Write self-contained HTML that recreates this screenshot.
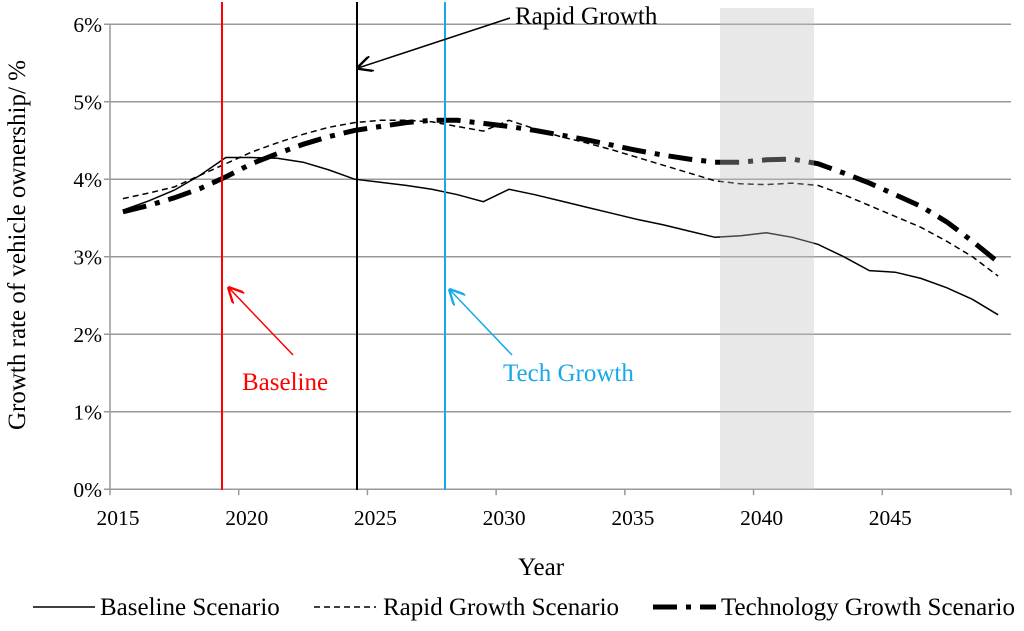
<!DOCTYPE html>
<html><head><meta charset="utf-8"><style>
body{margin:0;background:#fff}
svg text{font-family:"Liberation Serif",serif;}
</style></head><body>
<svg id="chart" width="1024" height="626" viewBox="0 0 1024 626" xmlns="http://www.w3.org/2000/svg">
<defs><marker id="ah" viewBox="0 0 10 10" refX="9" refY="5" markerWidth="16" markerHeight="16" markerUnits="userSpaceOnUse" orient="auto"><path d="M0,0 L10,5 L0,10" fill="none" stroke="context-stroke" stroke-width="1.5"/></marker></defs>
<g id="grid"></g>
<g id="series"></g>
<rect x="720" y="8" width="94" height="482" fill="rgb(190,190,190)" fill-opacity="0.36"/>
<g id="axes"></g>
<line x1="222" y1="2" x2="222" y2="490" stroke="#ff0000" stroke-width="2"/>
<line x1="357" y1="2" x2="357" y2="490" stroke="#000" stroke-width="2"/>
<line x1="445" y1="2" x2="445" y2="490" stroke="#17a9e8" stroke-width="2"/>
<line x1="510" y1="18" x2="358" y2="68" stroke="#000" stroke-width="1.5" marker-end="url(#ah)"/>
<text x="515" y="24" font-size="25" fill="#000">Rapid Growth</text>
<line x1="293" y1="355" x2="229" y2="288" stroke="#ff0000" stroke-width="1.5" marker-end="url(#ah)"/>
<text x="242" y="390" font-size="25" fill="#ff0000">Baseline</text>
<line x1="512" y1="355" x2="450" y2="290" stroke="#17a9e8" stroke-width="1.5" marker-end="url(#ah)"/>
<text x="503" y="381" font-size="25" fill="#17a9e8">Tech Growth</text>
<text x="541" y="575" font-size="25" text-anchor="middle">Year</text>
<text transform="translate(25,245) rotate(-90)" font-size="25" text-anchor="middle">Growth rate of vehicle ownership/ %</text>
<g>
<line x1="33" y1="607" x2="95" y2="607" stroke="#000" stroke-width="1.5"/>
<text x="100" y="615" font-size="25">Baseline Scenario</text>
<line x1="314" y1="607" x2="376" y2="607" stroke="#000" stroke-width="1.5" stroke-dasharray="6,4"/>
<text x="383" y="615" font-size="25">Rapid Growth Scenario</text>
<line x1="653" y1="607" x2="716" y2="607" stroke="#000" stroke-width="5" stroke-dasharray="24,9,5,9"/>
<text x="721" y="615" font-size="25">Technology Growth Scenario</text>
</g>
</svg>
<script>
const years=[2015,2016,2017,2018,2019,2020,2021,2022,2023,2024,2025,2026,2027,2028,2029,2030,2031,2032,2033,2034,2035,2036,2037,2038,2039,2040,2041,2042,2043,2044,2045,2046,2047,2048,2049];
const baseline=[3.6,3.72,3.86,4.05,4.28,4.28,4.27,4.22,4.12,4.0,3.96,3.92,3.87,3.8,3.71,3.87,3.8,3.72,3.64,3.56,3.48,3.41,3.33,3.25,3.27,3.31,3.25,3.16,3.0,2.82,2.8,2.72,2.6,2.45,2.25];
const rapid=[3.75,3.82,3.9,4.05,4.2,4.35,4.47,4.58,4.67,4.73,4.76,4.76,4.74,4.68,4.62,4.76,4.65,4.55,4.47,4.38,4.28,4.18,4.08,3.98,3.94,3.93,3.95,3.92,3.8,3.66,3.52,3.38,3.2,3.0,2.75];
const tech=[3.58,3.66,3.76,3.88,4.03,4.2,4.33,4.45,4.55,4.63,4.68,4.73,4.76,4.76,4.72,4.68,4.63,4.57,4.51,4.44,4.37,4.31,4.26,4.22,4.22,4.25,4.26,4.2,4.08,3.95,3.8,3.65,3.45,3.2,2.93];
const yTicks=[0,1,2,3,4,5,6];
const xTickLabels=[2015,2020,2025,2030,2035,2040,2045];
const NS="http://www.w3.org/2000/svg";
const L=110,R=1011,Y0=489.2,PX=77.5,STEP=(R-L)/35;
const xs=i=>L+STEP*(i+0.5), xt=y=>L+STEP*(y-2015), ys=v=>Y0-v*PX;
function mk(tag,attrs,parent){const e=document.createElementNS(NS,tag);for(const k in attrs)e.setAttribute(k,attrs[k]);document.getElementById(parent).appendChild(e);return e;}
yTicks.forEach(t=>{
 const g=mk('line',{x1:L-6,x2:R,y1:ys(t),y2:ys(t),stroke:'#999','stroke-width':1.5},'grid');
 
 
 const tx=mk('text',{x:L-8,y:ys(t)+8,'font-size':21.5,'text-anchor':'end'},'axes');
 tx.textContent=t+'%';
 
 
});
const ax=mk('line',{x1:L,x2:L,y1:ys(6),y2:Y0,stroke:'#999','stroke-width':1.5},'axes');


for(let y=2015;y<=2050;y+=5){
 const t=mk('line',{x1:xt(y),x2:xt(y),y1:Y0,y2:Y0+6,stroke:'#999','stroke-width':1.5},'axes');
 
 
}
xTickLabels.forEach(y=>{
 const tx=mk('text',{x:xt(y)+8,y:Y0+36,'font-size':21.5,'text-anchor':'middle'},'axes');
 tx.textContent=y;
 
 
});
function line(data,name,attrs){
 const d=data.map((v,i)=>(i?'L':'M')+xs(i).toFixed(1)+','+ys(v).toFixed(1)).join('');
 const p=mk('path',Object.assign({d,fill:'none',stroke:'#000'},attrs),'series');
 
 
}
line(baseline,'baseline-scenario-line',{'stroke-width':1.5});
line(rapid,'rapid-growth-scenario-line',{'stroke-width':1.5,'stroke-dasharray':'6,4'});
line(tech,'technology-growth-scenario-line',{'stroke-width':5,'stroke-dasharray':'24,9,5,9'});
</script>
</body></html>
